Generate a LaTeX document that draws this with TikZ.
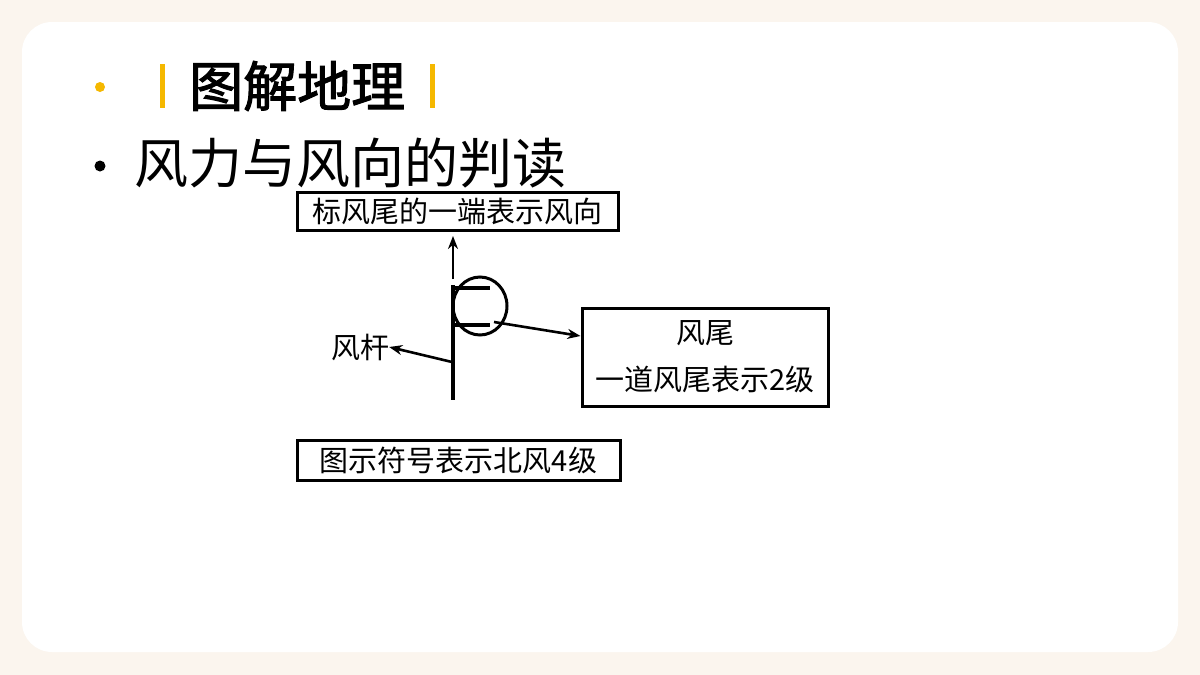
\documentclass[tikz,border=0pt]{standalone}
\usepackage{fontspec}
\newfontfamily\cjk{Noto Sans CJK SC}
\newfontfamily\cjkb{Noto Sans CJK SC}[FakeBold=2]
\usetikzlibrary{arrows.meta}
\definecolor{cream}{HTML}{FBF5EE}
\definecolor{gold}{HTML}{F5B800}
\begin{document}
\begin{tikzpicture}[x=1pt,y=-1pt,
  box/.style={draw,line width=3pt,inner sep=0pt,font=\cjk\fontsize{29}{32}\selectfont},
  arr/.style={line width=2.6pt,-{Stealth[length=13pt,width=10pt]}}]
\fill[cream] (0,0) rectangle (1200,675);
\fill[white,rounded corners=30pt] (22,22) rectangle (1178,652);
\useasboundingbox (0,0) rectangle (1200,675);
\fill[gold] (100,87) circle (5);
\fill[gold] (160,64) rectangle (165,108);
\fill[gold] (430,64) rectangle (435,108);
\node[anchor=west,inner sep=0pt,font=\cjkb\fontsize{54}{58}\selectfont] (t) at (189,86) {图解地理};
\fill (100,166) circle (5.5);
\node[anchor=west,inner sep=0pt,font=\cjk\fontsize{54}{58}\selectfont] (s) at (134,163) {风力与风向的判读};
\node[box,minimum width=321pt,minimum height=38pt] (top) at (457.5,211) {标风尾的一端表示风向};
\node[box,minimum width=246pt,minimum height=98pt,align=center] (right) at (705,357) {风尾\\[15pt]一道风尾表示2级};
\node[box,minimum width=323pt,minimum height=40pt] (bot) at (458.5,460) {图示符号表示北风4级};
\node[inner sep=0pt,font=\cjk\fontsize{29}{32}\selectfont] (gan) at (360,347) {风杆};
\coordinate (p1) at (453,285);
\coordinate (p2) at (453,400);
\draw[line width=4pt] (p1) -- (p2);
\draw[line width=4pt] (451,288) -- (490,288);
\draw[line width=4pt] (451,325) -- (490,325);
\draw[line width=3pt] (480,306) ellipse (27pt and 29pt);
\coordinate (u1) at (453,279);
\draw[arr] (u1) -- (453,236);
\coordinate (c1) at (494,322);
\draw[arr] (c1) -- (right.west|-0,336);
\coordinate (g1) at (452,362);
\draw[arr] (g1) -- (gan.east);
\end{tikzpicture}
\end{document}
